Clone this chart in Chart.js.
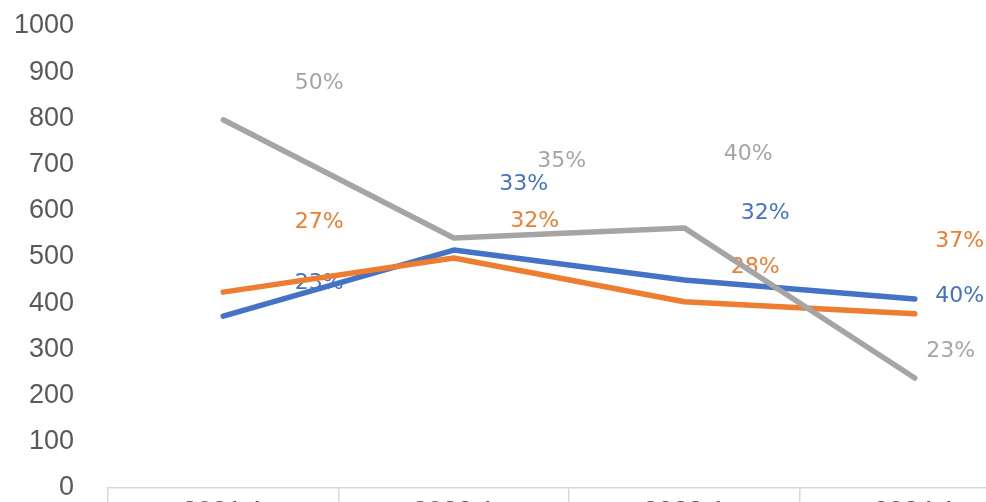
<!DOCTYPE html>
<html>
<head>
<meta charset="utf-8">
<script src="https://cdn.jsdelivr.net/npm/chart.js@4"></script>
<style>
  html, body { margin: 0; padding: 0; background: #fff; overflow: hidden; }
  #wrap { position: absolute; left: 0; top: 0; width: 1040px; height: 538px; }
</style>
</head>
<body>
<div id="wrap"><canvas id="chart"></canvas></div>
<script>
/* ── data ── */
const CATEGORIES = ['2021.1', '2022.1', '2023.1', '2024.1'];

const BLUE_VALUES   = [372, 515, 450, 409];
const ORANGE_VALUES = [424, 498, 403, 377];
const GRAY_VALUES   = [797, 541, 563, 238];

const BLUE_LABELS   = ['23%', '33%', '32%', '40%'];
const ORANGE_LABELS = ['27%', '32%', '28%', '37%'];
const GRAY_LABELS   = ['50%', '35%', '40%', '23%'];

const Y_TICKS = [0, 100, 200, 300, 400, 500, 600, 700, 800, 900, 1000];

/* ── label placement (pixel offsets from each point) ── */
const LABEL_OFFSETS = [
  [[96, -33], [70, -66], [81, -67], [45, -3]],     // blue
  [[96, -70], [81, -37], [71, -35], [45, -73]],    // orange
  [[96, -37], [108, -77], [64, -74], [36, -27]],   // gray
];

/* ── percentage labels, drawn under the lines ── */
Chart.register({
  id: 'pctlabels',
  beforeDatasetsDraw(chart) {
    const { ctx } = chart;
    ctx.save();
    ctx.font = '22px "DejaVu Sans", sans-serif';
    ctx.textAlign = 'center';
    ctx.textBaseline = 'middle';
    chart.data.datasets.forEach((ds, di) => {
      const meta = chart.getDatasetMeta(di);
      ctx.fillStyle = ds.borderColor;
      meta.data.forEach((pt, i) => {
        const [dx, dy] = LABEL_OFFSETS[di][i];
        ctx.fillText(ds.pctLabels[i], pt.x + dx, pt.y + dy);
      });
    });
    ctx.restore();
  },
});

function lineDs(label, values, pct, color, order) {
  return {
    label,
    data: values,
    pctLabels: pct,
    borderColor: color,
    backgroundColor: color,
    borderWidth: 5.5,
    borderCapStyle: 'round',
    borderJoinStyle: 'round',
    pointRadius: 0,
    tension: 0,
    order,
  };
}

new Chart(document.getElementById('chart').getContext('2d'), {
  type: 'line',
  data: {
    labels: CATEGORIES,
    datasets: [
      lineDs('Series 1', BLUE_VALUES,   BLUE_LABELS,   '#4472C4', 3),
      lineDs('Series 2', ORANGE_VALUES, ORANGE_LABELS, '#ED7D31', 2),
      lineDs('Series 3', GRAY_VALUES,   GRAY_LABELS,   '#A5A5A5', 1),
    ],
  },
  options: {
    animation: false,
    responsive: true,
    maintainAspectRatio: false,
    layout: { autoPadding: false, padding: { top: 26, right: 10, left: 0, bottom: 0 } },
    plugins: { legend: { display: false }, tooltip: { enabled: false } },
    scales: {
      x: {
        offset: true,
        grid: {
          offset: true,
          drawOnChartArea: false,
          drawTicks: true,
          tickLength: 22,
          color: '#D9D9D9',
          lineWidth: 1.5,
        },
        border: { display: true, color: '#D9D9D9', width: 1.5 },
        ticks: {
          color: '#595959',
          font: { family: '"Liberation Sans", Arial, sans-serif', size: 27 },
          padding: -14,
          maxRotation: 0,
          autoSkip: false,
        },
        afterFit: s => { s.height = 50; s.paddingLeft = 0; s.paddingRight = 0; },
      },
      y: {
        min: 0,
        max: 1000,
        afterBuildTicks: s => { s.ticks = Y_TICKS.map(v => ({ value: v })); },
        grid: { display: false, drawTicks: false },
        border: { display: false },
        ticks: {
          color: '#595959',
          font: { family: '"Liberation Sans", Arial, sans-serif', size: 27 },
          padding: 34,
          callback: v => String(v),
        },
        afterFit: s => { s.width = 108; s.paddingTop = 0; s.paddingBottom = 0; },
      },
    },
  },
});
</script>
</body>
</html>
